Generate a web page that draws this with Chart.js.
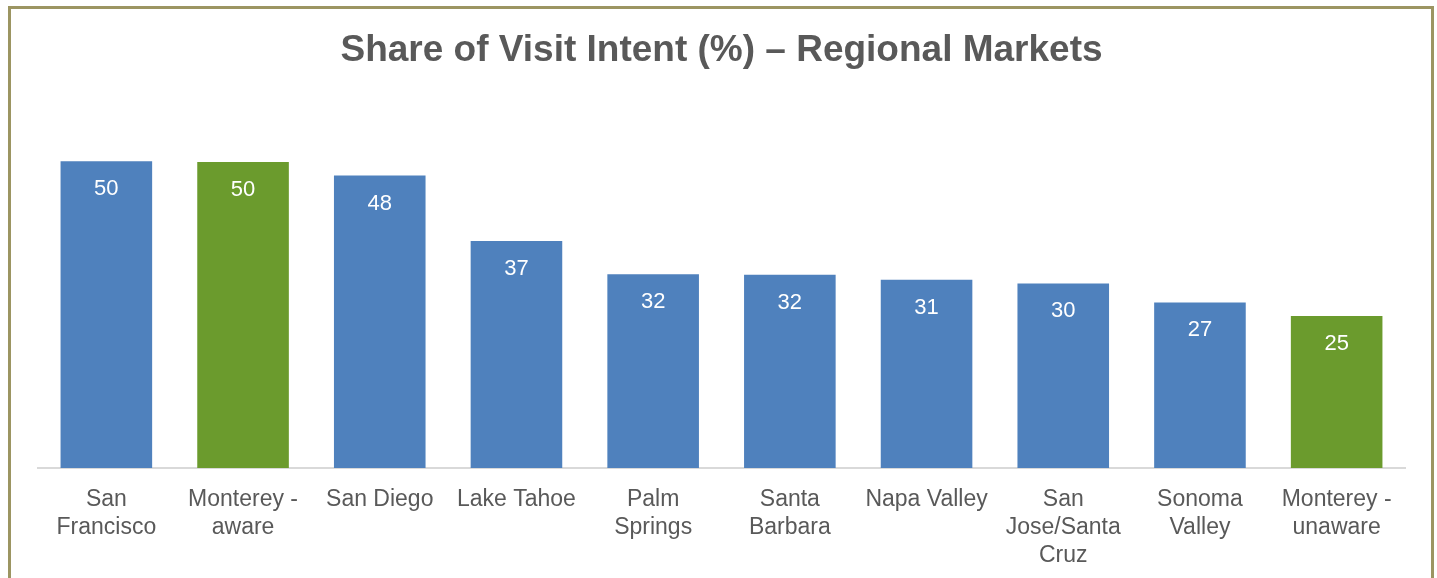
<!DOCTYPE html>
<html>
<head>
<meta charset="utf-8">
<script src="https://cdn.jsdelivr.net/npm/chart.js@4/dist/chart.umd.min.js"></script>
<style>
  html, body { margin: 0; padding: 0; background: #fff; }
  body { width: 1437px; height: 578px; position: relative; overflow: hidden; }
  #frame { position: absolute; left: 8px; top: 6px; width: 1426px; height: 600px; border: 3px solid #9c9562; box-sizing: border-box; }
  #wrap { position: absolute; left: 0; top: 0; width: 1437px; height: 578px; }
</style>
</head>
<body>
<div id="frame"></div>
<div id="wrap"><canvas id="chart"></canvas></div>
<script>
(()=>{
    const regions = [
        ['San', 'Francisco'],
        ['Monterey -', 'aware'],
        'San Diego',
        'Lake Tahoe',
        ['Palm', 'Springs'],
        ['Santa', 'Barbara'],
        'Napa Valley',
        ['San', 'Jose/Santa', 'Cruz'],
        ['Sonoma', 'Valley'],
        ['Monterey -', 'unaware']
    ];
    const visitIntent = [50.0, 49.9, 47.7, 37.0, 31.6, 31.5, 30.7, 30.1, 27.0, 24.8];
    const blue = '#4f81bd';
    const green = '#6b9b2d';
    const barColors = regions.map(r => (Array.isArray(r) && r[0] === 'Monterey -') ? green : blue);

    // white value labels inside the top of each bar
    const valueLabels = {
        id: 'valueLabels',
        afterDatasetsDraw(chart) {
            const ctx = chart.ctx;
            const meta = chart.getDatasetMeta(0);
            ctx.save();
            ctx.fillStyle = '#ffffff';
            ctx.font = '22px "Liberation Sans", Arial, sans-serif';
            ctx.textAlign = 'center';
            ctx.textBaseline = 'middle';
            meta.data.forEach((bar, i) => {
                ctx.fillText(Math.round(visitIntent[i]), bar.x, bar.y + 28);
            });
            ctx.restore();
        }
    };

    new Chart(document.getElementById('chart'), {
        type: 'bar',
        data: {
            labels: regions,
            datasets: [{
                data: visitIntent,
                backgroundColor: barColors,
                borderWidth: 0,
                barPercentage: 0.67,
                categoryPercentage: 1
            }]
        },
        options: {
            responsive: true,
            maintainAspectRatio: false,
            animation: false,
            layout: { padding: { top: 10, left: 38, right: 32, bottom: 0 } },
            plugins: {
                legend: { display: false },
                tooltip: { enabled: false },
                title: {
                    display: true,
                    text: 'Share of Visit Intent (%) \u2013 Regional Markets',
                    color: '#595959',
                    font: { family: '"Liberation Sans", Arial, sans-serif', size: 37, weight: 'bold' },
                    padding: { top: 19, bottom: 26.6 }
                }
            },
            scales: {
                y: {
                    display: false,
                    min: 0,
                    max: 60
                },
                x: {
                    offset: true,
                    grid: { display: false, drawTicks: false },
                    border: { display: true, color: '#d9d9d9', width: 2 },
                    ticks: {
                        color: '#595959',
                        padding: 18,
                        maxRotation: 0,
                        autoSkip: false,
                        font: { family: '"Liberation Sans", Arial, sans-serif', size: 23, lineHeight: 1.22 }
                    },
                    afterFit(scale) { scale.height = 110; }
                }
            }
        },
        plugins: [valueLabels]
    });
})()
</script>
</body>
</html>
